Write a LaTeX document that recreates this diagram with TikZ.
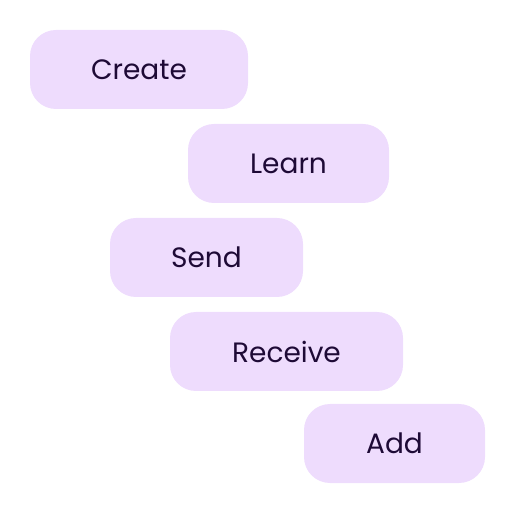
\documentclass[tikz,border=0pt]{standalone}
\usepackage{fontspec}
\setmainfont{Poppins}
\definecolor{boxfill}{HTML}{EEDCFD}
\definecolor{txt}{HTML}{1E0A36}
\begin{document}
\begin{tikzpicture}[x=1pt,y=-1pt,
  pill/.style={fill=boxfill,draw=none,rounded corners=26pt,text=txt,
    font=\fontsize{28}{30}\selectfont,inner sep=0pt}]
\useasboundingbox (0,0) rectangle (514,510);
\node[pill,minimum width=218pt,minimum height=79pt] (create) at (139,69.5) {Create};
\node[pill,minimum width=201pt,minimum height=79pt] (learn) at (288.5,163.5) {Learn};
\node[pill,minimum width=193pt,minimum height=79pt] (send) at (206.5,257.5) {Send};
\node[pill,minimum width=233pt,minimum height=79pt] (receive) at (286.5,351.5) {Receive};
\node[pill,minimum width=181pt,minimum height=79pt] (add) at (394.5,443.5) {Add};
\end{tikzpicture}
\end{document}
